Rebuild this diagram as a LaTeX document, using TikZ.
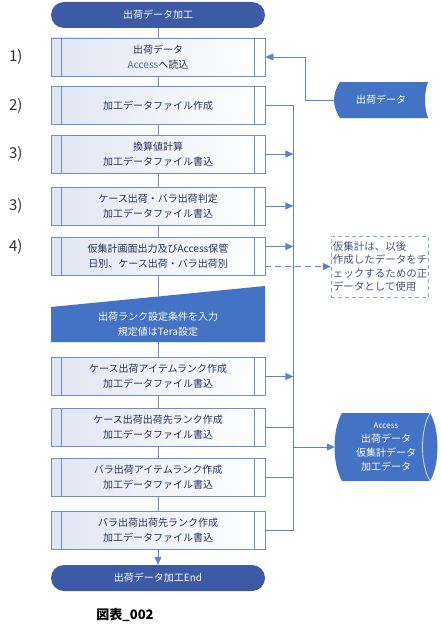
\documentclass[tikz,border=0pt]{standalone}
\usepackage{fontspec}
\setmainfont{Noto Sans CJK JP}
\usetikzlibrary{positioning,arrows.meta}
\definecolor{termblue}{RGB}{60,90,165}
\definecolor{shapeblue}{RGB}{68,114,196}
\definecolor{edgeblue}{RGB}{112,142,206}
\definecolor{lineblue}{RGB}{96,130,202}
\definecolor{boxshade}{RGB}{224,229,242}
\definecolor{textnavy}{RGB}{38,52,98}
\definecolor{notedash}{RGB}{150,166,206}

\begin{document}
\begin{tikzpicture}[x=1pt,y=-1pt,
  term/.style={fill=termblue,rounded corners=13pt,minimum width=214pt,minimum height=26pt,inner sep=0pt,text=white,font=\fontsize{10}{14}\selectfont},
  proc/.style={draw=edgeblue,line width=0.8pt,left color=boxshade,right color=white,minimum width=214pt,minimum height=38pt,inner sep=0pt,align=center,text=textnavy,font=\fontsize{10}{15}\selectfont},
  num/.style={inner sep=0pt,text=black!80,font=\fontsize{15}{18}\selectfont},
  flow/.style={draw=edgeblue,line width=0.8pt},
  feed/.style={draw=lineblue,line width=0.8pt},
  tip/.style={feed,-{Triangle[length=8pt,width=7pt]}}]
\useasboundingbox (0,0) rectangle (440,634);
% Terminators
\node[term] (start) at (158,15) {出荷データ加工};
\node[term] (end) at (158,578) {出荷データ加工End};
% Process steps
\node[proc] (p1) at (158,57) {出荷データ\\{\color{shapeblue}Access}へ読込};
\node[proc] (p2) at (158,105.5) {加工データファイル作成};
\node[proc] (p3) at (158,154) {換算値計算\\加工データファイル書込};
\node[proc] (p4) at (158,206) {ケース出荷・バラ出荷判定\\加工データファイル書込};
\node[proc] (p5) at (158,256.5) {仮集計画面出力及びAccess保管\\日別、ケース出荷・バラ出荷別};
\node[proc] (p6) at (158,376.5) {ケース出荷アイテムランク作成\\加工データファイル書込};
\node[proc] (p7) at (158,427) {ケース出荷出荷先ランク作成\\加工データファイル書込};
\node[proc] (p8) at (158,477) {バラ出荷アイテムランク作成\\加工データファイル書込};
\node[proc] (p9) at (158,530.5) {バラ出荷出荷先ランク作成\\加工データファイル書込};
% Inner bars of the process boxes
\foreach \n in {p1,p2,p3,p4,p5,p6,p7,p8,p9}{
  \draw[flow] ([xshift=11pt]\n.north west) -- ([xshift=11pt]\n.south west);
  \draw[flow] ([xshift=-11pt]\n.north east) -- ([xshift=-11pt]\n.south east);
}
% Manual input
\fill[shapeblue] (51,307) -- (265,286) -- (265,342) -- (51,342) -- cycle;
\node[align=center,text=white,font=\fontsize{10}{15}\selectfont] (rank) at (158,324.5) {出荷ランク設定条件を入力\\規定値はTera設定};
\coordinate (rankT) at (158,296.5);
\coordinate (rankB) at (158,342);
% Step numbers
\node[num,left=28pt of p1.west] (n1) {1)};
\node[num,left=28pt of p2.west] (n2) {2)};
\node[num,left=28pt of p3.west] (n3) {3)};
\node[num,left=28pt of p4.west] (n4) {3)};
\node[num,left=28pt of p5.west,yshift=10pt] (n5) {4)};
% Main flow
\draw[flow] (start) -- (p1);
\draw[flow] (p1) -- (p2);
\draw[flow] (p2) -- (p3);
\draw[flow] (p3) -- (p4);
\draw[flow] (p4) -- (p5);
\draw[flow] (p5) -- (rankT);
\draw[flow] (rankB) -- (p6);
\draw[flow] (p6) -- (p7);
\draw[flow] (p7) -- (p8);
\draw[flow] (p8) -- (p9);
\draw[flow,-{Triangle[length=8pt,width=7pt]},draw=lineblue] (p9) -- (end);
% Stored data: source
\fill[shapeblue] (340,82) -- (428,82) .. controls (424,94) and (424,106) .. (428,118)
  -- (340,118) .. controls (332,106) and (332,94) .. (340,82) -- cycle;
\node[minimum width=94pt,minimum height=36pt,inner sep=0pt,text=white,font=\fontsize{10}{14}\selectfont] (src) at (381,100) {出荷データ};
\draw[tip] (src.west) -- ++(-28,0) |- (p1.east);
% Stored data: Access
\fill[shapeblue] (342,413) -- (430,413) .. controls (440,430) and (440,464) .. (430,481)
  -- (342,481) .. controls (332,464) and (332,430) .. (342,413) -- cycle;
\draw[white!75!shapeblue,line width=0.8pt] (430,413) .. controls (420,430) and (420,464) .. (430,481);
\node[minimum width=102pt,minimum height=68pt,inner sep=0pt,align=center,text=white,font=\fontsize{10}{14}\selectfont] (acc) at (386,447) {{\fontsize{8}{10}\selectfont Access}\\出荷データ\\仮集計データ\\加工データ};
% Note
\node[draw=notedash,line width=1pt,dash pattern=on 4pt off 3pt,minimum width=96pt,minimum height=61pt,
  inner sep=1.5pt,align=left,text=textnavy!85,font=\fontsize{10.5}{13.3}\selectfont] (note) at (380,266.5)
  {仮集計は、以後\\作成したデータをチ\\ェックするための正\\データとして使用};
% Collecting line
\draw[feed] (p2.east) -| ([xshift=28pt]p9.east) -- (p9.east);
\draw[tip] (p3.east) -- ++(28,0);
\draw[tip] (p4.east) -- ++(28,0);
\draw[tip] ([yshift=10pt]p5.east) -- ++(28,0);
\draw[tip] (p6.east) -- ++(28,0);
\draw[feed] (p7.east) -- ++(28,0);
\draw[feed] (p8.east) -- ++(28,0);
\draw[tip] ([xshift=28pt]p7.east |- acc.west) -- (acc.west);
\draw[tip,dash pattern=on 6pt off 4pt] ([yshift=-10pt]p5.east) -- (note.west);
% Caption
\node[font=\fontsize{13}{16}\selectfont\bfseries] (cap) at (125,615) {図表\_002};
\end{tikzpicture}
\end{document}
